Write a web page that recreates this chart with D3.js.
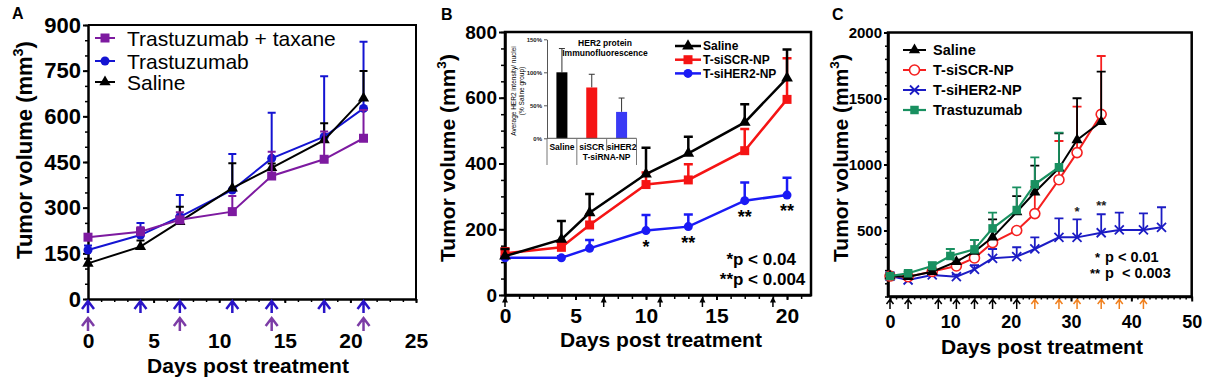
<!DOCTYPE html>
<html><head><meta charset="utf-8">
<script src="https://cdn.jsdelivr.net/npm/d3@7"></script>
<style>
html,body{margin:0;padding:0;background:#fff;}
svg{display:block;font-family:Arial,"Liberation Sans",Helvetica,sans-serif;}
</style></head><body>
<svg id="chart" width="1208" height="380"></svg>
<script>
// ===== Panel A data =====
const daysA = [0, 4, 7, 11, 14, 18, 21];
const namesA = ['Trastuzumab + taxane', 'Trastuzumab', 'Saline'];
const taxaneA = [203, 221, 260, 287, 404, 459, 528];
const taxaneTopA = [213, 236, 285, 338, 484, 550, 621];
const trastA = [161, 210, 270, 358, 462, 533, 626];
const trastTopA = [176, 250, 342, 476, 612, 732, 845];
const salineA = [117, 172, 254, 364, 431, 522, 659];
const salineTopA = [132, 192, 303, 446, 445, 577, 749];
const yTicksA = [0, 150, 300, 450, 600, 750, 900];
const xTicksA = [0, 5, 10, 15, 20, 25];
const injA1 = [0, 4, 7, 11, 14, 18, 21];
const injA2 = [0, 7, 14, 21];

// ===== Panel B data =====
const daysB = [0, 4, 6, 10, 13, 17, 20];
const namesB = ['Saline', 'T-siSCR-NP', 'T-siHER2-NP'];
const salineB = [118, 169, 250, 368, 431, 525, 660];
const salineTopB = [140, 225, 307, 448, 481, 580, 747];
const siscrB = [127, 145, 213, 336, 350, 439, 595];
const siscrTopB = [142, 158, 245, 373, 398, 505, 720];
const siherB = [113, 113, 142, 196, 208, 287, 304];
const siherTopB = [118, 118, 167, 243, 245, 342, 357];
const sigDaysB = [10, 13, 17, 20];
const sigMarksB = ['*', '**', '**', '**'];
const statStarsB = ['*', '**'];
const statTextB = ['p < 0.04', 'p < 0.004'];
const injB = [0, 7, 11, 14, 19];
const yTicksB = [0, 200, 400, 600, 800];
const xTicksB = [0, 5, 10, 15, 20];
const insetCats = ['Saline', 'siSCR', 'siHER2'];
const insetVals = [100, 77, 40];
const insetTops = [136, 97, 61];
const insetTicks = [0, 50, 100, 150];

// ===== Panel C data =====
const namesC = ['Saline', 'T-siSCR-NP', 'T-siHER2-NP', 'Trastuzumab'];
const daysC = [0, 3, 7, 11, 14, 17, 21, 24, 28, 31, 35];
const salineC = [155, 150, 188, 264, 340, 448, 640, 790, 972, 1186, 1324];
const salineTopC = [165, 160, 200, 280, 428, 585, 760, 991, 1236, 1502, 1703];
const siscrC = [155, 150, 190, 231, 292, 408, 500, 628, 885, 1090, 1380];
const siscrTopC = [162, 156, 200, 245, 305, 430, 520, 830, 1178, 1438, 1822];
const daysCHer = [0, 3, 7, 11, 14, 17, 21, 24, 28, 31, 35, 38, 42, 45];
const siherC = [155, 125, 163, 150, 206, 289, 302, 360, 448, 448, 483, 504, 504, 524];
const siherTopC = [165, 135, 175, 165, 238, 360, 373, 448, 592, 585, 623, 635, 630, 676];
const daysCTr = [0, 3, 7, 10, 14, 17, 21, 24, 28];
const trastC = [155, 176, 231, 307, 357, 516, 655, 850, 979];
const trastTopC = [165, 190, 260, 360, 428, 635, 827, 1054, 1241];
const sigDaysC = [31, 35];
const sigValsC = [660, 706];
const sigMarksC = ['*', '**'];
const statStarsC = ['*', '**'];
const statTextC = ['p < 0.01', 'p  < 0.003'];
const injC1 = [0, 3, 8, 11, 14, 17, 21];
const injC2 = [24, 28, 31, 35, 38, 42];
const yTicksC = [500, 1000, 1500, 2000];
const xTicksC = [0, 10, 20, 30, 40, 50];

// ===== helpers =====
const svg = d3.select('#chart');
svg.append('rect').attr('width', 1208).attr('height', 380).attr('fill', '#fff');

const sq = s => `M${-s/2},${-s/2}h${s}v${s}h${-s}Z`;
const circ = r => d3.symbol(d3.symbolCircle, Math.PI * r * r)();
const tri = a => d3.symbol(d3.symbolTriangle, a)();
const xmk = s => `M${-s},${-s}L${s},${s}M${-s},${s}L${s},${-s}`;
const plain = d3.format('d');

function styleAxis(g, o) {
  g.attr('font-size', null).attr('font-family', null);
  g.select('.domain').attr('stroke', '#000').attr('stroke-width', o.dw || 2.5);
  g.selectAll('.tick line').attr('stroke', '#000').attr('stroke-width', o.tw || 2);
  g.selectAll('.tick text').attr('fill', '#000').style('font-size', o.fs + 'px').style('font-weight', 'bold');
}
function minorAxis(g, axis, w) {
  g.call(axis).call(a => a.select('.domain').remove());
  g.selectAll('.tick line').attr('stroke', '#000').attr('stroke-width', w || 1.5);
}
function drawSeries(g, x, y, days, vals, tops, st) {
  const sg = g.append('g');
  sg.selectAll('path.eb').data(days).join('path').attr('class', 'eb')
    .attr('d', (d, i) => `M${x(d)},${y(vals[i])}V${y(tops[i])}M${x(d) - st.cap},${y(tops[i])}H${x(d) + st.cap}`)
    .attr('stroke', st.color).attr('stroke-width', st.ebw).attr('fill', 'none');
  sg.append('path').datum(days)
    .attr('d', d3.line().x(d => x(d)).y((d, i) => y(vals[i])))
    .attr('fill', 'none').attr('stroke', st.color).attr('stroke-width', st.lw);
  sg.selectAll('path.mk').data(days).join('path').attr('class', 'mk')
    .attr('transform', (d, i) => `translate(${x(d)},${y(vals[i])})`)
    .attr('d', st.marker)
    .attr('fill', st.fill).attr('stroke', st.mstroke || 'none').attr('stroke-width', st.msw || 0);
}
function legend(g, x0, x1, xt, rows, names, styles, fs, weight) {
  names.forEach((n, i) => {
    const st = styles[i], yy = rows[i];
    g.append('line').attr('x1', x0).attr('x2', x1).attr('y1', yy).attr('y2', yy)
      .attr('stroke', st.color).attr('stroke-width', st.lw);
    g.append('path').attr('transform', `translate(${(x0 + x1) / 2},${yy})`).attr('d', st.marker)
      .attr('fill', st.fill).attr('stroke', st.mstroke || 'none').attr('stroke-width', st.msw || 0);
    g.append('text').attr('x', xt).attr('y', yy + fs * 0.36).text(n)
      .style('font-size', fs + 'px').style('font-weight', weight).attr('fill', '#000');
  });
}
function yTitle(g, x, y, size) {
  const t = g.append('text').attr('transform', `translate(${x},${y}) rotate(-90)`)
    .attr('text-anchor', 'middle').style('font-size', size + 'px').style('font-weight', 'bold');
  t.append('tspan').text('Tumor volume (mm');
  t.append('tspan').attr('dy', -size * 0.42).style('font-size', (size * 0.65) + 'px').text('3');
  t.append('tspan').attr('dy', size * 0.42).text(')');
}
function xTitle(g, x, y, size) {
  g.append('text').attr('x', x).attr('y', y).attr('text-anchor', 'middle')
    .style('font-size', size + 'px').style('font-weight', 'bold').text('Days post treatment');
}
function chevrons(g, x, days, yTop, yBot, half, arm, color, sw) {
  g.selectAll(null).data(days).join('path')
    .attr('d', d => `M${x(d)},${yBot}V${yTop}M${x(d) - half},${yTop + arm}L${x(d)},${yTop}L${x(d) + half},${yTop + arm}`)
    .attr('fill', 'none').attr('stroke', color).attr('stroke-width', sw);
}
function panelLabel(t, x, y) {
  svg.append('text').attr('x', x).attr('y', y).text(t).style('font-size', '16px').style('font-weight', 'bold');
}

// ===================== Panel A =====================
{
  const xA = d3.scaleLinear().domain([0, 25]).range([88, 416]);
  const yA = d3.scaleLinear().domain([0, 900]).range([299, 25]);
  const g = svg.append('g');
  g.append('path').attr('d', `M${xA(0)},${yA(900)}H${xA(25)}V${yA(0)}`)
    .attr('fill', 'none').attr('stroke', '#000').attr('stroke-width', 2);
  minorAxis(g.append('g').attr('transform', `translate(${xA(0)},0)`),
    d3.axisLeft(yA).tickValues(d3.range(0, 901, 50)).tickSize(3).tickFormat(''));
  minorAxis(g.append('g').attr('transform', `translate(0,${yA(0)})`),
    d3.axisBottom(xA).tickValues(d3.range(0, 26, 1)).tickSize(3).tickFormat(''));
  g.append('g').attr('transform', `translate(${xA(0)},0)`)
    .call(d3.axisLeft(yA).tickValues(yTicksA).tickSize(5).tickPadding(2).tickSizeOuter(0).tickFormat(plain))
    .call(a => styleAxis(a, { fs: 22 }));
  g.append('g').attr('transform', `translate(0,${yA(0)})`)
    .call(d3.axisBottom(xA).tickValues(xTicksA).tickSize(4).tickPadding(30).tickSizeOuter(0).tickFormat(plain))
    .call(a => styleAxis(a, { fs: 21 }));

  const stSal = { color: '#000', lw: 2, ebw: 2, cap: 4, marker: tri(55), fill: '#000' };
  const stTr = { color: '#1414d2', lw: 2, ebw: 2, cap: 4, marker: circ(4.5), fill: '#1414d2' };
  const stTx = { color: '#7d1aa0', lw: 2, ebw: 2, cap: 4, marker: sq(9), fill: '#7d1aa0' };
  drawSeries(g, xA, yA, daysA, trastA, trastTopA, stTr);
  drawSeries(g, xA, yA, daysA, salineA, salineTopA, stSal);
  drawSeries(g, xA, yA, daysA, taxaneA, taxaneTopA, stTx);

  chevrons(g, xA, injA1, 301, 313, 6, 8, '#2a14c8', 2.5);
  chevrons(g, xA, injA2, 318, 331, 6, 8, '#7c3ca6', 2.5);

  legend(g, 95, 115, 127, [38, 61, 82], namesA, [stTx, stTr, stSal], 21, 'normal');
  yTitle(g, 32, 150, 22);
  xTitle(g, 248, 373, 21);
  panelLabel('A', 12, 19);
}

// ===================== Panel B =====================
{
  const xB = d3.scaleLinear().domain([0, 21.7]).range([505, 811]);
  const yB = d3.scaleLinear().domain([0, 800]).range([295, 32]);
  const g = svg.append('g');
  g.append('rect').attr('x', xB(0)).attr('y', yB(800)).attr('width', xB(21.7) - xB(0)).attr('height', yB(0) - yB(800))
    .attr('fill', 'none').attr('stroke', '#000').attr('stroke-width', 2.5);
  minorAxis(g.append('g').attr('transform', `translate(${xB(0)},0)`),
    d3.axisLeft(yB).tickValues(d3.range(0, 801, 50)).tickSize(4).tickFormat(''));
  minorAxis(g.append('g').attr('transform', `translate(0,${yB(0)})`),
    d3.axisBottom(xB).tickValues(d3.range(0, 22, 1)).tickSize(4).tickFormat(''));
  g.append('g').attr('transform', `translate(${xB(0)},0)`)
    .call(d3.axisLeft(yB).tickValues(yTicksB).tickSize(6).tickPadding(2).tickSizeOuter(0).tickFormat(plain))
    .call(a => styleAxis(a, { fs: 19 }));
  g.append('g').attr('transform', `translate(0,${yB(0)})`)
    .call(d3.axisBottom(xB).tickValues(xTicksB).tickSize(5).tickPadding(8).tickSizeOuter(0).tickFormat(plain))
    .call(a => styleAxis(a, { fs: 21 }));

  const stSal = { color: '#000', lw: 2.5, ebw: 2.5, cap: 4.5, marker: tri(60), fill: '#000' };
  const stScr = { color: '#f51414', lw: 2.5, ebw: 2.5, cap: 4.5, marker: sq(9), fill: '#f51414' };
  const stHer = { color: '#1a1af5', lw: 2.5, ebw: 2.5, cap: 4.5, marker: circ(4.5), fill: '#1a1af5' };
  drawSeries(g, xB, yB, daysB, siherB, siherTopB, stHer);
  drawSeries(g, xB, yB, daysB, siscrB, siscrTopB, stScr);
  drawSeries(g, xB, yB, daysB, salineB, salineTopB, stSal);

  // significance marks
  g.selectAll(null).data(sigDaysB).join('text')
    .attr('x', d => xB(d)).attr('y', d => yB(siherB[daysB.indexOf(d)]) + 22)
    .attr('text-anchor', 'middle').style('font-size', '18px').style('font-weight', 'bold')
    .text((d, i) => sigMarksB[i]);
  // stats
  statTextB.forEach((t, i) => {
    const yy = 265 + i * 20;
    g.append('text').attr('x', 733).attr('y', yy).attr('text-anchor', 'end')
      .style('font-size', '17px').style('font-weight', 'bold').text(statStarsB[i]);
    g.append('text').attr('x', 733).attr('y', yy)
      .style('font-size', '17px').style('font-weight', 'bold').text(t);
  });
  // injection arrows
  g.selectAll(null).data(injB).join('path')
    .attr('d', d => `M${xB(d)},307V300`).attr('stroke', '#000').attr('stroke-width', 1.5);
  g.selectAll(null).data(injB).join('path')
    .attr('d', d => `M${xB(d) - 3},302.5L${xB(d)},296.5L${xB(d) + 3},302.5Z`).attr('fill', '#000');

  legend(g, 675, 701, 703, [46, 59.7, 73.4], namesB, [stSal, stScr, stHer], 12, 'bold');
  yTitle(g, 455, 158, 21);
  xTitle(g, 661, 347, 21);
  panelLabel('B', 441, 20);

  // ---- inset bar chart ----
  const ix = d3.scaleBand().domain(insetCats).range([547, 636.5]);
  const iy = d3.scaleLinear().domain([0, 150]).range([138.3, 39.3]);
  const ig = g.append('g');
  const insetColors = ['#000', '#f51414', '#3a3af5'];
  ig.selectAll(null).data(insetCats).join('path')
    .attr('d', (d, i) => {
      const c = ix(d) + ix.bandwidth() / 2;
      return `M${c},${iy(insetVals[i])}V${iy(insetTops[i])}M${c - 3},${iy(insetTops[i])}H${c + 3}`;
    }).attr('stroke', '#333').attr('stroke-width', 1).attr('fill', 'none');
  ig.selectAll(null).data(insetCats).join('rect')
    .attr('x', d => ix(d) + ix.bandwidth() / 2 - 5.5).attr('width', 11)
    .attr('y', (d, i) => iy(insetVals[i])).attr('height', (d, i) => iy(0) - iy(insetVals[i]))
    .attr('fill', (d, i) => insetColors[i]);
  const iax = ig.append('g').attr('transform', 'translate(547,0)')
    .call(d3.axisLeft(iy).tickValues(insetTicks).tickSize(3).tickPadding(2).tickSizeOuter(0).tickFormat(d => d + '%'));
  iax.attr('font-size', null).attr('font-family', null);
  iax.select('.domain').attr('stroke', '#555').attr('stroke-width', 1);
  iax.selectAll('.tick line').attr('stroke', '#555');
  iax.selectAll('.tick text').style('font-size', '6px').style('font-weight', 'bold').attr('fill', '#222');
  ig.append('path').attr('d', `M547,${iy(0)}H636.5`).attr('stroke', '#555').attr('stroke-width', 1);
  const seps = [547, 547 + ix.bandwidth(), 547 + 2 * ix.bandwidth(), 636.5];
  const sepEnd = [165, 165, 151, 165];
  seps.forEach((s, i) => ig.append('path').attr('d', `M${s},${iy(0)}V${sepEnd[i]}`).attr('stroke', '#777').attr('stroke-width', 1));
  ig.selectAll(null).data(insetCats).join('text')
    .attr('x', d => ix(d) + ix.bandwidth() / 2).attr('y', 150).attr('text-anchor', 'middle')
    .style('font-size', '8.5px').style('font-weight', 'bold').text(d => d);
  ig.append('text').attr('x', 547 + 2 * ix.bandwidth()).attr('y', 160).attr('text-anchor', 'middle')
    .style('font-size', '8.5px').style('font-weight', 'bold').text('T-siRNA-NP');
  ig.append('text').attr('x', 605).attr('y', 46).attr('text-anchor', 'middle')
    .style('font-size', '8.5px').style('font-weight', 'bold').text('HER2 protein');
  ig.append('text').attr('x', 605).attr('y', 56).attr('text-anchor', 'middle')
    .style('font-size', '8.5px').style('font-weight', 'bold').text('Immunofluorescence');
  ig.append('text').attr('transform', 'translate(515.5,91) rotate(-90)').attr('text-anchor', 'middle')
    .style('font-size', '6.5px').text('Average HER2 intensity/ nuclei');
  ig.append('text').attr('transform', 'translate(523.5,91) rotate(-90)').attr('text-anchor', 'middle')
    .style('font-size', '6.5px').text('(% Saline group)');
}

// ===================== Panel C =====================
{
  const xC = d3.scaleLinear().domain([0, 50]).range([890, 1191.7]);
  const yC = d3.scaleLinear().domain([0, 2000]).range([296.5, 32.5]);
  const g = svg.append('g');
  g.append('rect').attr('x', xC(0) - 2).attr('y', yC(2000)).attr('width', xC(50) - xC(0) + 2).attr('height', yC(0) - yC(2000))
    .attr('fill', 'none').attr('stroke', '#000').attr('stroke-width', 2.5);
  minorAxis(g.append('g').attr('transform', `translate(${xC(0) - 2},0)`),
    d3.axisLeft(yC).tickValues(d3.range(0, 2001, 100)).tickSize(3).tickFormat(''));
  minorAxis(g.append('g').attr('transform', `translate(0,${yC(0)})`),
    d3.axisBottom(xC).tickValues(d3.range(0, 51, 1)).tickSize(3).tickFormat(''), 1.5);
  g.append('g').attr('transform', `translate(${xC(0) - 2},0)`)
    .call(d3.axisLeft(yC).tickValues(yTicksC).tickSize(4).tickPadding(2).tickSizeOuter(0).tickFormat(plain))
    .call(a => styleAxis(a, { fs: 15 }));
  g.append('g').attr('transform', `translate(0,${yC(0)})`)
    .call(d3.axisBottom(xC).tickValues(xTicksC).tickSize(5).tickPadding(14).tickSizeOuter(0).tickFormat(plain))
    .call(a => styleAxis(a, { fs: 18 }));

  const stSal = { color: '#000', lw: 2, ebw: 1.8, cap: 4.5, marker: tri(55), fill: '#000' };
  const stScr = { color: '#f52020', lw: 2, ebw: 1.8, cap: 4.5, marker: circ(5), fill: '#fff', mstroke: '#f52020', msw: 1.6 };
  const stHer = { color: '#1c1cc4', lw: 2, ebw: 1.8, cap: 4.5, marker: xmk(4.5), fill: 'none', mstroke: '#1c1cc4', msw: 1.8 };
  const stTr = { color: '#199060', lw: 2.2, ebw: 1.8, cap: 4.5, marker: sq(8.5), fill: '#199060' };
  drawSeries(g, xC, yC, daysCHer, siherC, siherTopC, stHer);
  drawSeries(g, xC, yC, daysC, siscrC, siscrTopC, stScr);
  drawSeries(g, xC, yC, daysC, salineC, salineTopC, stSal);
  drawSeries(g, xC, yC, daysCTr, trastC, trastTopC, stTr);

  g.selectAll(null).data(sigDaysC).join('text')
    .attr('x', d => xC(d)).attr('y', (d, i) => yC(sigValsC[i]) + 7).attr('text-anchor', 'middle')
    .style('font-size', '13px').style('font-weight', 'bold').attr('fill', '#222').text((d, i) => sigMarksC[i]);
  statTextC.forEach((t, i) => {
    const yy = 262 + i * 16;
    g.append('text').attr('x', 1100).attr('y', yy).attr('text-anchor', 'end')
      .style('font-size', '13px').style('font-weight', 'bold').text(statStarsC[i]);
    g.append('text').attr('x', 1105).attr('y', yy).style('white-space', 'pre')
      .style('font-size', '14.5px').style('font-weight', 'bold').text(t);
  });

  chevrons(g, xC, injC1, 299.5, 309, 3.5, 4.5, '#000', 1.5);
  chevrons(g, xC, injC2, 299.5, 309, 3.5, 4.5, '#f0801e', 1.5);

  legend(g, 903, 926, 933, [50, 70, 90, 110], namesC, [stSal, stScr, stHer, stTr], 14.5, 'bold');
  yTitle(g, 848, 158, 21);
  xTitle(g, 1042, 354, 21);
  panelLabel('C', 832, 20);
}
</script>
</body></html>
